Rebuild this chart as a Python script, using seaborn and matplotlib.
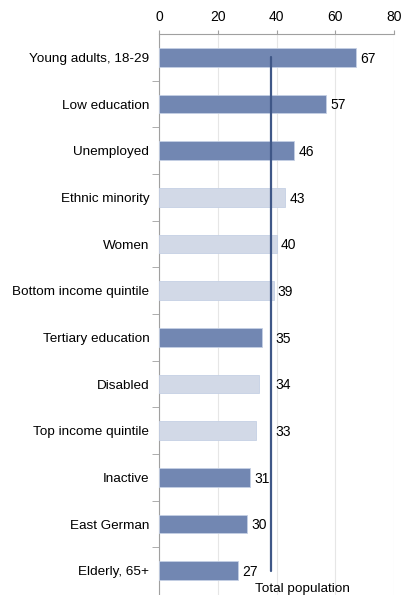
import matplotlib
matplotlib.use("Agg")
import matplotlib.pyplot as plt
import seaborn as sns
import pandas as pd
import numpy as np

categories = ["Young adults, 18-29", "Low education", "Unemployed", "Ethnic minority",
              "Women", "Bottom income quintile", "Tertiary education", "Disabled",
              "Top income quintile", "Inactive", "East German", "Elderly, 65+"]
values = [67, 57, 46, 43, 40, 39, 35, 34, 33, 31, 30, 27]
groups = ["dark", "dark", "dark", "light", "light", "light", "dark", "light",
          "light", "dark", "dark", "dark"]
total_population = 38
xticks = [0, 20, 40, 60, 80]

df = pd.DataFrame({"cat": categories, "val": values, "grp": groups})

sns.set_style("white")
plt.rcParams['font.family'] = ['Liberation Sans', 'DejaVu Sans']

fig = plt.figure(figsize=(4.14, 5.95), dpi=100)
ax = fig.add_axes([159/414, 0.0, (394-159)/414, 1 - 34/595])

palette = {"dark": "#7287B2", "light": "#D2D9E7"}
sns.barplot(data=df, y="cat", x="val", hue="grp", palette=palette, dodge=False,
            width=0.40, legend=False, ax=ax, edgecolor="#C5D0E4", linewidth=0.6,
            saturation=1, zorder=3)

n = len(categories)
ax.set_ylim(n - 0.5 + 0.02, -0.5)
ax.set_xlim(0, 80)
ax.set_xticks(xticks)
ax.xaxis.tick_top()
ax.tick_params(axis='x', labelsize=10, length=3, color="#A0A0A0", pad=4, top=True,
               bottom=False, labelcolor="black")
ax.tick_params(axis='y', labelsize=9.7, length=0, pad=7, labelcolor="black")
ax.set_yticks(np.arange(n - 1) + 0.5, minor=True)
ax.tick_params(axis='y', which='minor', length=5, color="#A0A0A0", left=True)
ax.set_xlabel("")
ax.set_ylabel("")
ax.grid(axis='x', color="#E6E6E6", linewidth=0.8, zorder=0)
for s in ["right", "bottom"]:
    ax.spines[s].set_visible(False)
for s in ["top", "left"]:
    ax.spines[s].set_color("#A0A0A0")
    ax.spines[s].set_linewidth(0.8)

for i, v in enumerate(values):
    if total_population - 6 < v < total_population:
        x = total_population + 1.6
    else:
        x = v + 1.4
    ax.text(x, i + 0.03, f"{v}", va="center", ha="left", fontsize=10, color="black", zorder=5)

ax.plot([total_population, total_population], [0, n - 1], color="#3F5787", linewidth=1.6, zorder=4)
ax.text(total_population + 10.8, n - 1 + 0.4, "Total population", ha="center", va="center",
        fontsize=9.7, color="black", clip_on=False)

fig.savefig("out.png", dpi=100)
